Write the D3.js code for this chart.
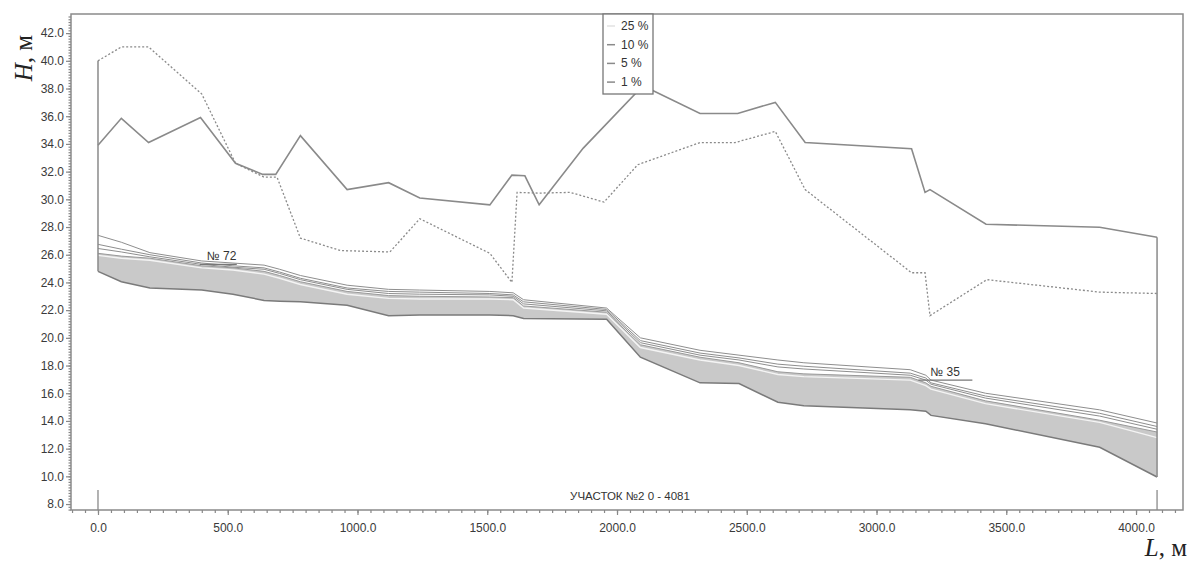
<!DOCTYPE html>
<html>
<head>
<meta charset="utf-8">
<script src="https://cdn.jsdelivr.net/npm/d3@7/dist/d3.min.js"></script>
<style>
  html, body { margin: 0; padding: 0; background: #fff; }
  svg { display: block; }
  .tick text { font-family: "Liberation Sans", Arial, sans-serif; font-size: 12px; fill: #3a3a3a; }
</style>
</head>
<body>
<svg id="chart" width="1190" height="561"></svg>
<script>
// Longitudinal profile, section No.2 (0 - 4081 m)
// Stations along the channel, m
const stations = [0, 90, 200, 400, 520, 640, 700, 780, 960, 1120, 1240, 1510, 1600, 1640, 1960, 2090, 2320, 2470, 2620, 2720, 3130, 3190, 3210, 3420, 3860, 4081];
// Channel bed, m
const bed     = [24.8, 24.05, 23.6, 23.45, 23.15, 22.7, 22.65, 22.6, 22.35, 21.6, 21.65, 21.65, 21.6, 21.4, 21.35, 18.6, 16.75, 16.7, 15.35, 15.1, 14.8, 14.7, 14.4, 13.8, 12.1, 9.95];
// Upper edge of the shaded flow area, m
const flowTop = [26.1, 25.9, 25.75, 25.2, 25.05, 24.8, 24.5, 24.05, 23.35, 23.05, 23.0, 22.95, 22.9, 22.3, 21.85, 19.5, 18.6, 18.2, 17.55, 17.4, 17.15, 16.75, 16.5, 15.45, 14.05, 13.2];
// Water surface levels by exceedance probability, m
const level25 = [25.95, 25.75, 25.6, 25.05, 24.9, 24.6, 24.3, 23.85, 23.15, 22.85, 22.8, 22.8, 22.75, 22.15, 21.7, 19.3, 18.4, 18.0, 17.35, 17.2, 16.95, 16.55, 16.3, 15.25, 13.9, 12.8];
const level10 = [26.45, 26.2, 25.85, 25.3, 25.1, 24.95, 24.65, 24.2, 23.5, 23.2, 23.15, 23.1, 23.0, 22.45, 21.95, 19.65, 18.75, 18.4, 17.9, 17.75, 17.3, 16.95, 16.65, 15.65, 14.35, 13.4];
const level5  = [26.75, 26.4, 26.0, 25.4, 25.2, 25.05, 24.75, 24.3, 23.6, 23.35, 23.3, 23.2, 23.1, 22.6, 22.05, 19.8, 18.9, 18.55, 18.1, 17.95, 17.45, 17.1, 16.75, 15.8, 14.55, 13.6];
const level1  = [27.4, 26.9, 26.15, 25.55, 25.4, 25.25, 24.95, 24.5, 23.8, 23.5, 23.45, 23.35, 23.25, 22.75, 22.15, 20.0, 19.1, 18.75, 18.4, 18.2, 17.7, 17.3, 16.95, 16.0, 14.8, 13.85];

// Left bank (dotted)
const bankA_L = [0, 90, 195, 400, 530, 640, 690, 780, 935, 1125, 1240, 1510, 1595, 1615, 1700, 1820, 1950, 2080, 2320, 2455, 2610, 2725, 3135, 3187, 3206, 3425, 3860, 4081];
const bankA_H = [40.0, 41.0, 41.0, 37.6, 32.6, 31.6, 31.6, 27.2, 26.3, 26.2, 28.6, 26.1, 24.0, 30.5, 30.45, 30.5, 29.8, 32.5, 34.1, 34.1, 34.9, 30.7, 24.7, 24.7, 21.6, 24.2, 23.3, 23.2];
// Right bank (solid)
const bankB_L = [0, 90, 195, 395, 530, 635, 685, 780, 960, 1120, 1240, 1510, 1595, 1645, 1700, 1870, 2100, 2320, 2465, 2610, 2725, 3135, 3187, 3206, 3422, 3860, 4081];
const bankB_H = [33.9, 35.85, 34.1, 35.9, 32.6, 31.8, 31.8, 34.6, 30.7, 31.2, 30.1, 29.6, 31.75, 31.7, 29.6, 33.7, 38.2, 36.2, 36.2, 37.0, 34.1, 33.65, 30.5, 30.7, 28.2, 27.98, 27.26];

// Gauge posts
const posts = [{ name: "№ 72", L: 400, H: 25.3 }, { name: "№ 35", L: 3300, H: 16.95 }];

const legendItems = ["25 %", "10 %", "5 %", "1 %"];
const legendColors = ["#e2e2e2", "#8a8a8a", "#8a8a8a", "#8a8a8a"];

const yMajor = d3.range(8, 42.01, 2);
const xMajor = d3.range(0, 4000.1, 500);

const svg = d3.select("#chart");
const plotLeft = 71, plotRight = 1183, plotTop = 14, plotBottom = 510;

const x = d3.scaleLinear().domain([-104, 4181]).range([plotLeft, plotRight]);
const y = d3.scaleLinear().domain([7.57, 43.38]).range([plotBottom, plotTop]);

const pts = arr => stations.map((s, i) => [s, arr[i]]);

// Shaded flow area between bed and its upper edge
const area = d3.area().x((d, i) => x(stations[i])).y0((d, i) => y(bed[i])).y1(d => y(d));
svg.append("path").datum(flowTop).attr("d", area).attr("fill", "#c9c9c9");

const line = d3.line().x(d => x(d[0])).y(d => y(d[1]));

svg.append("path").datum(pts(level25)).attr("d", line)
  .attr("fill", "none").attr("stroke", "#f4f4f4").attr("stroke-width", 1.4);
svg.append("path").datum(pts(flowTop)).attr("d", line)
  .attr("fill", "none").attr("stroke", "#9a9a9a").attr("stroke-width", 1);
svg.append("path").datum(pts(bed)).attr("d", line)
  .attr("fill", "none").attr("stroke", "#7a7a7a").attr("stroke-width", 1.5);
[level10, level5, level1].forEach(lv => {
  svg.append("path").datum(pts(lv)).attr("d", line)
    .attr("fill", "none").attr("stroke", "#8e8e8e").attr("stroke-width", 1);
});

// Bank lines
svg.append("path").datum(bankA_L.map((l, i) => [l, bankA_H[i]])).attr("d", line)
  .attr("fill", "none").attr("stroke", "#8a8a8a").attr("stroke-width", 1.3)
  .attr("stroke-dasharray", "2,2");
svg.append("path").datum(bankB_L.map((l, i) => [l, bankB_H[i]])).attr("d", line)
  .attr("fill", "none").attr("stroke", "#8a8a8a").attr("stroke-width", 1.6);

// Section boundaries
const first = 0, last = stations.length - 1;
svg.append("line").attr("x1", x(stations[first])).attr("x2", x(stations[first]))
  .attr("y1", y(Math.max(bankA_H[0], bankB_H[0]))).attr("y2", y(bed[first]))
  .attr("stroke", "#8a8a8a").attr("stroke-width", 1.5);
svg.append("line").attr("x1", x(stations[last])).attr("x2", x(stations[last]))
  .attr("y1", y(Math.max(bankA_H[bankA_H.length - 1], bankB_H[bankB_H.length - 1]))).attr("y2", y(bed[last]))
  .attr("stroke", "#8a8a8a").attr("stroke-width", 1.5);
[stations[first], stations[last]].forEach(s => {
  svg.append("line").attr("x1", x(s)).attr("x2", x(s)).attr("y1", plotBottom - 20).attr("y2", plotBottom)
    .attr("stroke", "#8a8a8a").attr("stroke-width", 1.3);
});

// Gauge post labels
posts.forEach((p, i) => {
  const px = x(p.L), py = y(p.H);
  const w = i === 0 ? 37 : 54;
  const x0 = i === 0 ? px - 2 : px - 36;
  svg.append("line").attr("x1", x0).attr("x2", x0 + w).attr("y1", py).attr("y2", py)
    .attr("stroke", "#777").attr("stroke-width", 1.2);
  svg.append("text").attr("x", i === 0 ? px + 5 : px - 24).attr("y", py - 4)
    .attr("font-family", "Liberation Sans, Arial, sans-serif").attr("font-size", 12)
    .attr("fill", "#333").text(p.name);
});

svg.append("text").attr("x", 630).attr("y", 500).attr("text-anchor", "middle")
  .attr("font-family", "Liberation Sans, Arial, sans-serif").attr("font-size", 11.5)
  .attr("fill", "#333").text("УЧАСТОК №2  0 - 4081");

// Frame
svg.append("rect").attr("x", plotLeft).attr("y", plotTop).attr("width", plotRight - plotLeft).attr("height", plotBottom - plotTop)
  .attr("fill", "none").attr("stroke", "#8a8a8a").attr("stroke-width", 1.5);

// Axes
const yAxis = svg.append("g").attr("transform", `translate(${plotLeft},0)`)
  .call(d3.axisLeft(y).tickValues(yMajor).tickFormat(d3.format(".1f")).tickSize(5).tickPadding(2));
const yMinor = svg.append("g").attr("transform", `translate(${plotLeft},0)`)
  .call(d3.axisLeft(y).tickValues(d3.range(7.6, 43.3, 0.2)).tickFormat("").tickSize(2.5));
const xAxis = svg.append("g").attr("transform", `translate(0,${plotBottom})`)
  .call(d3.axisBottom(x).tickValues(xMajor).tickFormat(d3.format(".1f")).tickSize(5).tickPadding(8));
const xMinor = svg.append("g").attr("transform", `translate(0,${plotBottom})`)
  .call(d3.axisBottom(x).tickValues(d3.range(-100, 4181, 50)).tickFormat("").tickSize(3));
[yAxis, yMinor, xAxis, xMinor].forEach(g => {
  g.select(".domain").remove();
  g.selectAll(".tick line").attr("stroke", "#888").attr("stroke-width", 1.2);
});

// Axis titles
const yt = svg.append("text").attr("transform", "translate(32,58) rotate(-90)")
  .attr("text-anchor", "middle").attr("font-family", "Liberation Serif, Times New Roman, serif")
  .attr("font-size", 25).attr("fill", "#222");
yt.append("tspan").attr("font-style", "italic").text("H");
yt.append("tspan").text(", м");

const xt = svg.append("text").attr("x", 1187).attr("y", 556)
  .attr("text-anchor", "end").attr("font-family", "Liberation Serif, Times New Roman, serif")
  .attr("font-size", 25).attr("fill", "#222");
xt.append("tspan").attr("font-style", "italic").text("L");
xt.append("tspan").text(", м");

// Legend
const lg = svg.append("g");
lg.append("rect").attr("x", 603).attr("y", 14).attr("width", 50).attr("height", 80)
  .attr("fill", "#fff").attr("stroke", "#777").attr("stroke-width", 1.3);
legendItems.forEach((t, i) => {
  const ly = 26 + i * 18.7;
  lg.append("line").attr("x1", 607).attr("x2", 615).attr("y1", ly).attr("y2", ly)
    .attr("stroke", legendColors[i]).attr("stroke-width", 1.5);
  lg.append("text").attr("x", 621).attr("y", ly + 4)
    .attr("font-family", "Liberation Sans, Arial, sans-serif").attr("font-size", 12)
    .attr("fill", "#333").text(t);
});
</script>
</body>
</html>
